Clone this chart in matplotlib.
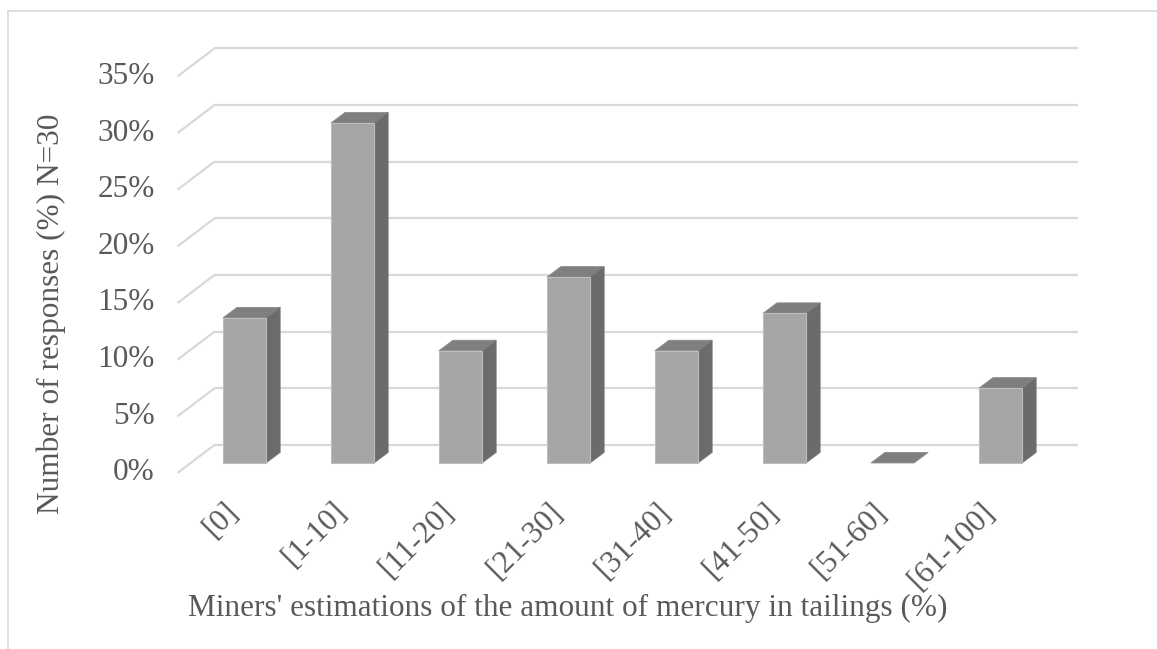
"""3D風の棒グラフ: 尾鉱中の水銀量に関する鉱夫の推定。"""

import matplotlib

matplotlib.use("Agg")
import matplotlib.pyplot as plt
from matplotlib.lines import Line2D
from matplotlib.patches import Polygon, Rectangle

categories = ["[0]", "[1-10]", "[11-20]", "[21-30]", "[31-40]", "[41-50]", "[51-60]", "[61-100]"]
responses_pct = [12.8, 30.0, 9.9, 16.4, 9.9, 13.2, 0.0, 6.6]
y_ticks = [0, 5, 10, 15, 20, 25, 30, 35]
y_label = "Number of responses (%) N=30"
x_label = "Miners' estimations of the amount of mercury in tailings (%)"

TEXT = "#595959"
GRID = "#d9d9d9"
FRONT = "#a5a5a5"
SIDE = "#6b6b6b"
TOP = "#7f7f7f"
FS = 22.5

# 斜投影のオフセット (データ単位)
BAR_W = 0.40
BAR_DX, BAR_DY = 0.130, 0.93     # 棒の奥行き
BACK_DX, BACK_DY = 0.222, 1.59   # 奥の壁
FRONT_DX, FRONT_DY = -0.120, -0.88  # 床の手前端

plt.rcParams["font.family"] = ["Liberation Serif", "DejaVu Serif"]

fig = plt.figure(figsize=(11.57, 6.49), dpi=100)
ax = fig.add_axes([0, 0, 1, 1])
ax.set_xlim(-2.264, 8.449)
ax.set_ylim(-16.42, 40.86)
ax.axis("off")

x0, x1 = -0.5, len(categories) - 0.5
for v in y_ticks:
    ax.plot([x0 + BACK_DX, x1 + BACK_DX], [v + BACK_DY, v + BACK_DY],
            color=GRID, lw=1.6, zorder=1, solid_capstyle="butt")
    ax.plot([x0 + FRONT_DX, x0 + BACK_DX], [v + FRONT_DY, v + BACK_DY],
            color=GRID, lw=1.6, zorder=1, solid_capstyle="butt")
    ax.text(x0 + FRONT_DX - 0.21, v + FRONT_DY, f"{v}%", ha="right", va="center",
            fontsize=FS, color=TEXT)

for i, v in enumerate(responses_pct):
    left, right = i - BAR_W / 2, i + BAR_W / 2
    top = [(left, v), (right, v), (right + BAR_DX, v + BAR_DY), (left + BAR_DX, v + BAR_DY)]
    ax.add_patch(Polygon(top, closed=True, facecolor=TOP, edgecolor="#8c8c8c", lw=0.6, zorder=3))
    if v > 0:
        side = [(right, 0), (right, v), (right + BAR_DX, v + BAR_DY), (right + BAR_DX, BAR_DY)]
        ax.add_patch(Polygon(side, closed=True, facecolor=SIDE, edgecolor="#7a7a7a", lw=0.6, zorder=3))
        ax.add_patch(Rectangle((left, 0), BAR_W, v, facecolor=FRONT, edgecolor="#bdbdbd",
                               lw=0.8, zorder=4))
    ax.text(i, -3.0, categories[i], rotation=45, ha="right", va="top",
            fontsize=FS, color=TEXT)

ax.text(2.99, -12.8, x_label, ha="center", va="center", fontsize=FS, color=TEXT)
ax.text(-1.79, 13.2, y_label, ha="center", va="center", rotation=90,
        fontsize=FS, color=TEXT)

# グラフエリアの枠 (上と左のみ見える)
bx, by = 8 / 1157, 1 - 11 / 649
fig.add_artist(Line2D([bx, 1], [by, by], color=GRID, lw=1.2, transform=fig.transFigure))
fig.add_artist(Line2D([bx, bx], [0, by], color=GRID, lw=1.2, transform=fig.transFigure))

fig.savefig("out.png", dpi=100)
